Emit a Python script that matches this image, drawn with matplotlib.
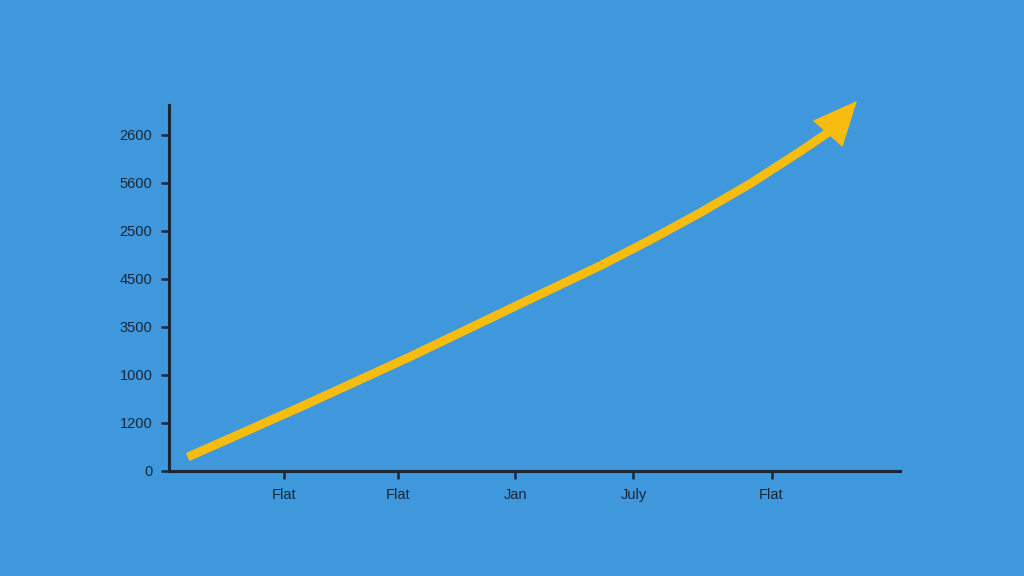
import numpy as np
import matplotlib.pyplot as plt

plt.rcParams['font.family'] = ['Liberation Sans', 'DejaVu Sans']

# tick labels as shown on the picture
y_labels = ['0', '1200', '1000', '3500', '4500', '2500', '5600', '2600']
y_ticks = [0, 1, 2, 3, 4, 5, 6, 7]
x_labels = ['Flat', 'Flat', 'Jan', 'July', 'Flat']
x_ticks = [0.98, 1.96, 2.96, 3.97, 5.15]

# growth curve
x_vals = [0.16, 1.12, 2.06, 3.00, 3.68, 4.11, 4.54, 4.97, 5.39, 5.65]
y_vals = [0.29, 1.33, 2.38, 3.48, 4.27, 4.81, 5.38, 5.99, 6.65, 7.08]
tip = (5.88, 7.71)

bg = '#3f97dc'
yellow = '#f6bd10'
ink = '#18283a'

fig = plt.figure(figsize=(10.24, 5.76), dpi=100, facecolor=bg)
ax = fig.add_axes([169/1024, 1 - 471/576, 731/1024, 366/576])
ax.set_facecolor(bg)

ax.plot(x_vals, y_vals, color=yellow, lw=6.3, solid_capstyle='butt',
        solid_joinstyle='round', clip_on=False)
# arrow head
ax.annotate('', xy=tip, xytext=(x_vals[-1], y_vals[-1]),
            arrowprops=dict(arrowstyle='-|>,head_length=3.0,head_width=1.35',
                            color=yellow, lw=1, mutation_scale=10,
                            shrinkA=0, shrinkB=0),
            annotation_clip=False)

ax.set_xlim(0, 731/117)
ax.set_ylim(0, 366/48)
ax.set_xticks(x_ticks)
ax.set_xticklabels(x_labels)
ax.set_yticks(y_ticks)
ax.set_yticklabels(y_labels)

for s in ['top', 'right']:
    ax.spines[s].set_visible(False)
for s in ['left', 'bottom']:
    ax.spines[s].set_color(ink)
    ax.spines[s].set_linewidth(2.2)
ax.tick_params(axis='both', colors=ink, labelcolor=ink, labelsize=10.5,
               length=6, width=1.8, pad=6)

fig.savefig('out.png', dpi=100, facecolor=bg)
